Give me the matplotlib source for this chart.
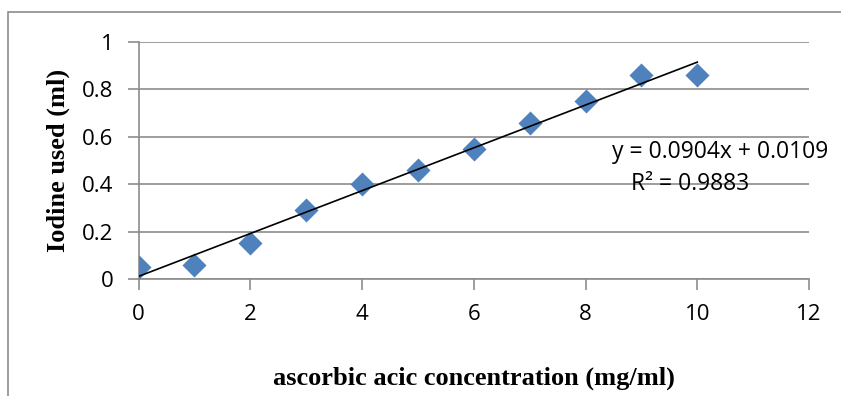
import numpy as np
import matplotlib.pyplot as plt
from matplotlib.patches import Rectangle

# Data
concentration = [0, 1, 2, 3, 4, 5, 6, 7, 8, 9, 10]
iodine_used = [0.05, 0.06, 0.15, 0.29, 0.40, 0.46, 0.55, 0.66, 0.75, 0.86, 0.86]
slope = 0.0904
intercept = 0.0109
eq_text = 'y = 0.0904x + 0.0109'
r2_text = 'R² = 0.9883'

tick_font = 'Open Sans'
label_font = 'Liberation Serif'
grid_col = '#8c8c8c'

fig = plt.figure(figsize=(8.41, 3.96), dpi=100)
ax = fig.add_axes([0.1647, 0.2955, 0.7973, 0.5985])

# outer chart border
fig.patches.append(Rectangle((8 / 841, -0.1), 1.2, 1 - 12 / 396 + 0.1,
                             transform=fig.transFigure, fill=False,
                             edgecolor=grid_col, linewidth=1.2))

ax.scatter(concentration, iodine_used, marker='D', s=150, color='#4F81BD',
           zorder=3, linewidths=0)

# linear trendline
tx = np.array([min(concentration), max(concentration)])
ax.plot(tx, slope * tx + intercept, color='black', linewidth=1.2, zorder=4)

ax.set_xlim(0, 12)
ax.set_ylim(0, 1)
ax.set_xticks(range(0, 13, 2))
ax.set_yticks([0, 0.2, 0.4, 0.6, 0.8, 1])
ax.set_yticklabels(['0', '0.2', '0.4', '0.6', '0.8', '1'])
ax.grid(axis='y', color=grid_col, linewidth=1.2)
ax.set_axisbelow(True)
for s in ['top', 'right']:
    ax.spines[s].set_visible(False)
for s in ['left', 'bottom']:
    ax.spines[s].set_color(grid_col)
    ax.spines[s].set_linewidth(1.2)
ax.tick_params(axis='x', direction='out', length=8, color=grid_col, width=1.2,
               pad=10)
ax.tick_params(axis='y', direction='out', length=8, color=grid_col, width=1.2,
               pad=10)
for lbl in ax.get_xticklabels() + ax.get_yticklabels():
    lbl.set_fontfamily(tick_font)
    lbl.set_fontsize(16)

ax.set_xlabel('ascorbic acic concentration (mg/ml)', fontfamily=label_font,
              fontweight='bold', fontsize=19, labelpad=30)
ax.set_ylabel('Iodine used (ml)', fontfamily=label_font,
              fontweight='bold', fontsize=19, labelpad=9)

ax.text(828 / 841, 1 - 152 / 396, eq_text, transform=fig.transFigure,
        ha='right', va='center', fontfamily=tick_font, fontsize=16.5)
ax.text(690 / 841, 1 - 184 / 396, r2_text, transform=fig.transFigure,
        ha='center', va='center', fontfamily=tick_font, fontsize=16.5)

fig.savefig('out.png', dpi=100)
